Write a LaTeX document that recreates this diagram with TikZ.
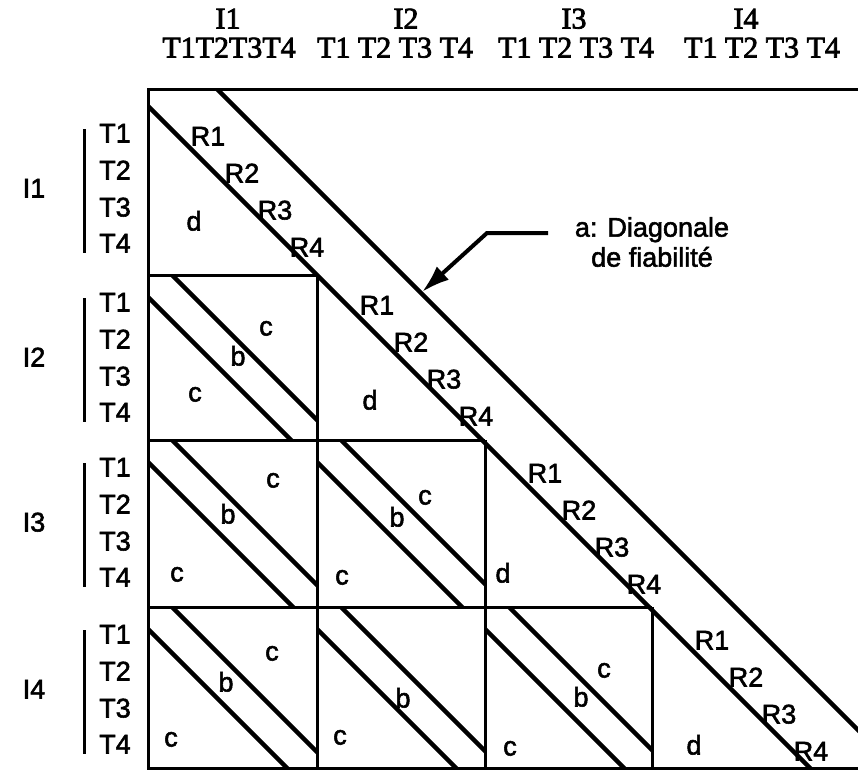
\documentclass[tikz,border=0pt]{standalone}
\usepackage{fontspec}
\setmainfont{Liberation Serif}
\newfontfamily\tms[FakeBold=2.5]{Liberation Serif}
\newfontfamily\hv[FakeBold=2]{Liberation Sans}
\usetikzlibrary{arrows.meta}
\begin{document}
\begin{tikzpicture}[x=1pt,y=-1pt,
  frame/.style={line width=3pt},
  diag/.style={line width=4.5pt},
  hdr/.style={font=\tms\fontsize{30}{30}\selectfont, inner sep=0pt, text height=19pt, text depth=0pt},
  lab/.style={font=\hv\fontsize{27}{30}\selectfont, inner sep=0pt, text height=19pt, text depth=0pt},
  captext/.style={font=\hv\fontsize{27}{30}\selectfont, inner sep=0pt},
]
\useasboundingbox (0,0) rectangle (858,772);
% frame and grid
\draw[frame] (858,89) -- (148,89) -- (148,768) -- (858,768);
\draw[frame] (148,275) -- (317,275) (148,440) -- (485,440) (148,607) -- (652,607);
\draw[frame] (317,275) -- (317,768) (485,440) -- (485,768) (652,607) -- (652,768);
% main diagonals
\begin{scope}
\clip (148,89) rectangle (858,768);
\draw[diag] (130,88) -- (830,788);
\draw[diag] (207,79) -- (878,750);
\end{scope}
% stripes in off-diagonal blocks
\foreach \bx/\by/\bw/\bh in {148/275/169/165, 148/440/169/167, 317/440/168/167, 148/607/169/161, 317/607/168/161, 485/607/167/161}{
  \begin{scope}
    \clip (\bx,\by) rectangle ({\bx+\bw},{\by+\bh});
    \draw[diag] ({\bx+14},{\by-10}) -- ({\bx+\bw+20},{\by+\bw-4});
    \draw[diag] ({\bx-10},{\by+12}) -- ({\bx+\bh-2},{\by+\bh+20});
  \end{scope}
}
% header
\node[hdr] (hI1) at (228,19) {I1};
\node[hdr] (hI2) at (406,19) {I2};
\node[hdr] (hI3) at (574,19) {I3};
\node[hdr] (hI4) at (746,19) {I4};
\node[hdr] (hT1) at (229,48) {T1T2T3T4};
\node[hdr] (hT2) at (395,48) {T1 T2 T3 T4};
\node[hdr] (hT3) at (576,48) {T1 T2 T3 T4};
\node[hdr] (hT4) at (762,48) {T1 T2 T3 T4};
% left labels
\foreach \k/\top in {1/106, 2/275, 3/440, 4/607}{
  \node[lab] (lI\k) at (34,{\top+82}) {I\k};
  \draw[frame] (84,{\top+23}) -- (84,{\top+147});
  \node[lab] (l\k T1) at (115,{\top+27}) {T1};
  \node[lab] (l\k T2) at (115,{\top+64}) {T2};
  \node[lab] (l\k T3) at (115,{\top+101}) {T3};
  \node[lab] (l\k T4) at (115,{\top+137}) {T4};
}
% R labels on the diagonal blocks
\foreach \k/\sx/\sy in {1/148/106, 2/317/275, 3/485/443, 4/652/610}{
  \node[lab] (r\k a) at ({\sx+60},{\sy+30}) {R1};
  \node[lab] (r\k b) at ({\sx+94},{\sy+67}) {R2};
  \node[lab] (r\k c) at ({\sx+127},{\sy+104}) {R3};
  \node[lab] (r\k d) at ({\sx+159},{\sy+141}) {R4};
}
% d labels
\node[lab] (d1) at (194,221) {d};
\node[lab] (d2) at (370,400) {d};
\node[lab] (d3) at (503,573) {d};
\node[lab] (d4) at (694,745) {d};
% c / b labels
\node[lab] (c21u) at (266,326) {c};
\node[lab] (b21) at (238,356) {b};
\node[lab] (c21l) at (195,392) {c};
\node[lab] (c31u) at (273,478) {c};
\node[lab] (b31) at (228,514) {b};
\node[lab] (c31l) at (177,572) {c};
\node[lab] (c32u) at (425,495) {c};
\node[lab] (b32) at (397,517) {b};
\node[lab] (c32l) at (342,575) {c};
\node[lab] (c41u) at (272,651) {c};
\node[lab] (b41) at (226,682) {b};
\node[lab] (c41l) at (171,737) {c};
\node[lab] (b42) at (403,698) {b};
\node[lab] (c42l) at (340,735) {c};
\node[lab] (c43u) at (604,668) {c};
\node[lab] (b43) at (581,697) {b};
\node[lab] (c43l) at (510,746) {c};
% callout
\node[captext, align=center] (cap) at (652,242) {a: Diagonale\\de fiabilité};
\coordinate (tail) at (548,233);
\coordinate (elbow) at (487,233);
\coordinate (tip) at (422,292);
\draw[line width=4pt, -{Latex[length=28pt,width=18pt]}] (tail) -- (elbow) -- (tip);
\end{tikzpicture}
\end{document}
